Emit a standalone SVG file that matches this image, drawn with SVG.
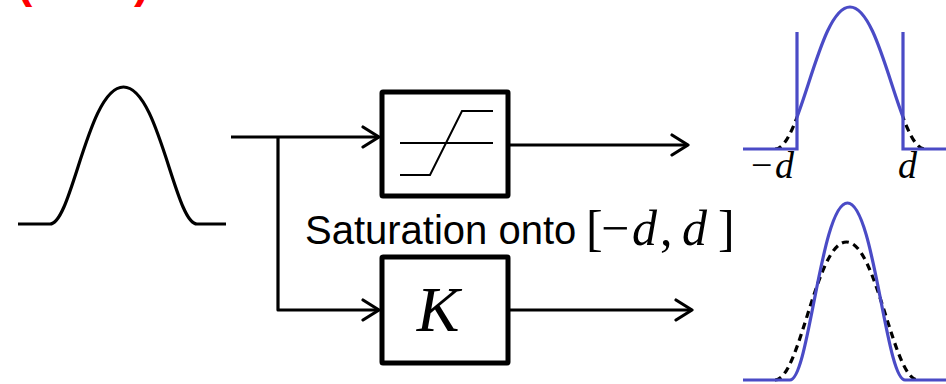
<svg xmlns="http://www.w3.org/2000/svg" width="946" height="384" viewBox="0 0 946 384">
<style>
.ln{fill:none;stroke:#000;stroke-width:3.2;stroke-linejoin:round}
.box{fill:#fff;stroke:#000;stroke-width:5;stroke-linejoin:round}
.thin{fill:none;stroke:#000;stroke-width:2}
.blue{fill:none;stroke:#4a4bc6;stroke-width:3.2}
.dash{fill:none;stroke:#000;stroke-width:3.2;stroke-dasharray:7 5}
.sans{font-family:"Liberation Sans",Arial,sans-serif}
.math{font-family:"Liberation Serif","Times New Roman",serif}
.it{font-style:italic}
</style>
<defs>
<marker id="arr" viewBox="0 0 20 24" refX="18" refY="12" markerWidth="20" markerHeight="24" markerUnits="userSpaceOnUse" orient="auto">
<path d="M2,2 L18,12 L2,22" fill="none" stroke="#000" stroke-width="3.2" stroke-linecap="round" stroke-linejoin="round"/>
</marker>
<clipPath id="inside"><rect x="797" y="0" width="106" height="160"/></clipPath>
<clipPath id="outside"><rect x="740" y="0" width="57" height="149"/><rect x="903" y="0" width="43" height="149"/></clipPath>
</defs>

<g id="label-red" class="sans" fill="#ff0000" font-size="46" font-weight="bold">
<text x="17" y="-3">(</text>
<text x="134" y="-3">)</text>
</g>

<g id="input-signal">
<path class="ln" d="M18,224 H50 C72,224 88,87 123.5,87 C159,87 175,224 197,224 H226"/>
</g>

<g id="saturation-block">
<rect class="box" x="382" y="92" width="126" height="104" rx="1"/>
<line class="thin" x1="400" y1="143" x2="493" y2="143"/>
<polyline class="thin" points="400,175 430,175 462,111 493,111"/>
</g>

<g id="gain-block">
<rect class="box" x="382" y="257" width="126" height="106" rx="1"/>
<text class="math it" x="438" y="331" font-size="64" text-anchor="middle">K</text>
</g>

<g id="saturation-label">
<text class="sans" x="305" y="244" font-size="40">Saturation onto</text>
<text class="math" y="245" font-size="50"><tspan x="586">[</tspan><tspan x="601">−</tspan><tspan x="632" font-style="italic">d</tspan><tspan x="660">,</tspan><tspan x="682" font-style="italic">d</tspan><tspan x="718">]</tspan></text>
</g>

<g id="saturated-output">
<path class="dash" clip-path="url(#outside)" d="M775,149 C801,149 818,7 850,7 C882,7 899,149 925,149"/>
<path class="blue" clip-path="url(#inside)" d="M775,149 C801,149 818,7 850,7 C882,7 899,149 925,149"/>
<path class="blue" d="M743,149 H797 V32 M903,32 V149 H946"/>
<text class="math" y="178" font-size="38"><tspan x="751">−</tspan><tspan x="775" font-style="italic">d</tspan></text>
<text class="math it" x="898" y="178" font-size="38">d</text>
</g>

<g id="gain-output">
<path class="dash" d="M775,380 C800,380 816,242 846.5,242 C877,242 893,380 918,380"/>
<path class="blue" d="M743,380 H790 C809,380 821,203 847.5,203 C874,203 886,380 905,380 H946"/>
</g>

<g id="connectors">
<path class="ln" d="M231,137 H379" marker-end="url(#arr)"/>
<path class="ln" d="M278,137 V310 H379" marker-end="url(#arr)"/>
<path class="ln" d="M510,145 H688" marker-end="url(#arr)"/>
<path class="ln" d="M510,310 H692" marker-end="url(#arr)"/>
</g>
</svg>
